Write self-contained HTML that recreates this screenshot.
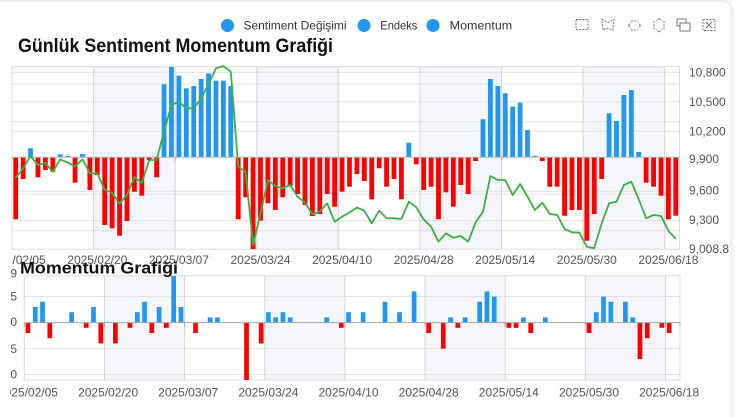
<!DOCTYPE html>
<html><head><meta charset="utf-8"><style>
html,body{margin:0;padding:0;background:#f7f7f7;}
svg{display:block;font-family:"Liberation Sans","Noto Sans CJK SC",sans-serif;}
</style></head><body>
<svg width="735" height="417" viewBox="0 0 735 417" xmlns="http://www.w3.org/2000/svg">
<defs><clipPath id="lc"><rect x="10" y="0" width="725" height="417"/></clipPath>
<clipPath id="lm"><rect x="12" y="0" width="723" height="417"/></clipPath>
<clipPath id="pc"><rect x="12" y="66.7" width="667.5" height="182.5"/></clipPath>
<clipPath id="bc"><rect x="24.3" y="275.8" width="655.7" height="104.2"/></clipPath></defs>
<rect x="-10" y="1" width="741" height="430" rx="8" fill="#fff" stroke="#e4e4e4" stroke-width="1"/>

<!-- Legend -->
<g font-size="12" fill="#333">
<circle cx="227.5" cy="25.5" r="6.5" fill="#2196f3"/><text x="243.5" y="29.7" textLength="103" lengthAdjust="spacingAndGlyphs">Sentiment Değişimi</text>
<circle cx="364" cy="25.5" r="6.5" fill="#2196f3"/><text x="380.3" y="29.7" textLength="37" lengthAdjust="spacingAndGlyphs">Endeks</text>
<circle cx="433" cy="25.5" r="6.5" fill="#2196f3"/><text x="449.7" y="29.7" textLength="62.5" lengthAdjust="spacingAndGlyphs">Momentum</text>
</g>
<!-- Toolbox -->
<g fill="none" stroke="#777" stroke-width="1" stroke-dasharray="2,1.2">
<rect x="576" y="19.5" width="12" height="10"/>
<polygon points="602,19.5 608,22.5 614,19.5 613,30 606,28 603,30"/>
<path d="M631,21 h7 M631,30 h7 M628.5,25.5 l2.5,-3 M628.5,25.5 l2.5,3 M640.5,25.5 l-2.5,-3 M640.5,25.5 l-2.5,3"/>
<path d="M654,21 v9 M664,21 v9 M659,18.5 l-3,2.5 M659,18.5 l3,2.5 M659,32 l-3,-2.5 M659,32 l3,-2.5"/>
<rect x="703" y="19.5" width="12" height="11"/>
<path d="M706,22 l6,6 M712,22 l-6,6" stroke-dasharray="none"/>
</g>
<g fill="none" stroke="#777" stroke-width="1">
<rect x="677" y="19" width="9" height="7"/><rect x="680" y="23" width="10" height="8" fill="#fff"/>
</g>

<!-- Main title -->
<text x="18" y="52" font-size="19" font-weight="bold" fill="#111" textLength="315" lengthAdjust="spacingAndGlyphs">Günlük Sentiment Momentum Grafiği</text>

<!-- Main plot background -->
<g fill="#f4f6fb">
<rect x="93.6" y="66.7" width="81.6" height="182.5"/><rect x="256.8" y="66.7" width="81.5" height="182.5"/>
<rect x="419.9" y="66.7" width="81.6" height="182.5"/><rect x="583.1" y="66.7" width="81.6" height="182.5"/>
</g>
<g stroke="#e2e2e2" stroke-width="1">
<line x1="12" x2="679.5" y1="72.3" y2="72.3"/><line x1="12" x2="679.5" y1="84" y2="84"/>
<line x1="12" x2="679.5" y1="101.7" y2="101.7"/><line x1="12" x2="679.5" y1="121.7" y2="121.7"/>
<line x1="12" x2="679.5" y1="131.3" y2="131.3"/><line x1="12" x2="679.5" y1="191.3" y2="191.3"/>
<line x1="12" x2="679.5" y1="194.3" y2="194.3"/><line x1="12" x2="679.5" y1="220.7" y2="220.7"/>
<line x1="12" x2="679.5" y1="230.7" y2="230.7"/>
</g>
<g stroke="#d6d6d6" stroke-width="1">
<line x1="93.6" x2="93.6" y1="66.7" y2="249.2"/><line x1="175.2" x2="175.2" y1="66.7" y2="249.2"/>
<line x1="256.8" x2="256.8" y1="66.7" y2="249.2"/><line x1="338.3" x2="338.3" y1="66.7" y2="249.2"/>
<line x1="419.9" x2="419.9" y1="66.7" y2="249.2"/><line x1="501.5" x2="501.5" y1="66.7" y2="249.2"/>
<line x1="583.1" x2="583.1" y1="66.7" y2="249.2"/><line x1="664.7" x2="664.7" y1="66.7" y2="249.2"/>
</g>
<rect x="12" y="66.7" width="667.5" height="182.5" fill="none" stroke="#dcdcdc" stroke-width="1"/>

<!-- Main bars -->
<g clip-path="url(#pc)">
<g fill="#ff0000">
<rect x="13.31" y="157.3" width="4.8" height="62"/>
<rect x="20.73" y="157.3" width="4.8" height="21.7"/>
<rect x="35.56" y="157.3" width="4.8" height="20"/>
<rect x="42.98" y="157.3" width="4.8" height="12.7"/>
<rect x="50.40" y="157.3" width="4.8" height="14.4"/>
<rect x="72.65" y="157.3" width="4.8" height="25.4"/>
<rect x="87.48" y="157.3" width="4.8" height="32.7"/>
<rect x="94.90" y="157.3" width="4.8" height="17.7"/>
<rect x="102.31" y="157.3" width="4.8" height="67.7"/>
<rect x="109.73" y="157.3" width="4.8" height="71"/>
<rect x="117.15" y="157.3" width="4.8" height="78.4"/>
<rect x="124.57" y="157.3" width="4.8" height="63.7"/>
<rect x="131.98" y="157.3" width="4.8" height="34.4"/>
<rect x="139.40" y="157.3" width="4.8" height="38.4"/>
<rect x="146.82" y="157.3" width="4.8" height="2.7"/>
<rect x="154.23" y="157.3" width="4.8" height="20"/>
<rect x="235.82" y="157.3" width="4.8" height="62"/>
<rect x="243.24" y="157.3" width="4.8" height="40"/>
<rect x="250.65" y="157.3" width="4.8" height="92"/>
<rect x="258.07" y="157.3" width="4.8" height="63.4"/>
<rect x="265.49" y="157.3" width="4.8" height="46"/>
<rect x="272.91" y="157.3" width="4.8" height="52.7"/>
<rect x="280.32" y="157.3" width="4.8" height="40"/>
<rect x="287.74" y="157.3" width="4.8" height="28.7"/>
<rect x="295.16" y="157.3" width="4.8" height="36.7"/>
<rect x="302.57" y="157.3" width="4.8" height="47.7"/>
<rect x="309.99" y="157.3" width="4.8" height="58.7"/>
<rect x="317.41" y="157.3" width="4.8" height="56.7"/>
<rect x="324.82" y="157.3" width="4.8" height="36.7"/>
<rect x="332.24" y="157.3" width="4.8" height="49.4"/>
<rect x="339.66" y="157.3" width="4.8" height="34.4"/>
<rect x="347.08" y="157.3" width="4.8" height="29.4"/>
<rect x="354.49" y="157.3" width="4.8" height="16.7"/>
<rect x="361.91" y="157.3" width="4.8" height="23.7"/>
<rect x="369.33" y="157.3" width="4.8" height="42"/>
<rect x="376.74" y="157.3" width="4.8" height="11"/>
<rect x="384.16" y="157.3" width="4.8" height="29.4"/>
<rect x="391.58" y="157.3" width="4.8" height="21.7"/>
<rect x="398.99" y="157.3" width="4.8" height="42"/>
<rect x="413.83" y="157.3" width="4.8" height="7"/>
<rect x="421.25" y="157.3" width="4.8" height="32.7"/>
<rect x="428.66" y="157.3" width="4.8" height="29.4"/>
<rect x="436.08" y="157.3" width="4.8" height="62"/>
<rect x="443.50" y="157.3" width="4.8" height="35"/>
<rect x="450.91" y="157.3" width="4.8" height="49.4"/>
<rect x="458.33" y="157.3" width="4.8" height="27.7"/>
<rect x="465.75" y="157.3" width="4.8" height="36.7"/>
<rect x="473.16" y="157.3" width="4.8" height="3.7"/>
<rect x="539.92" y="157.3" width="4.8" height="3.7"/>
<rect x="547.33" y="157.3" width="4.8" height="29.4"/>
<rect x="554.75" y="157.3" width="4.8" height="29.4"/>
<rect x="562.17" y="157.3" width="4.8" height="58.4"/>
<rect x="569.59" y="157.3" width="4.8" height="52.7"/>
<rect x="577.00" y="157.3" width="4.8" height="52.7"/>
<rect x="584.42" y="157.3" width="4.8" height="83.4"/>
<rect x="591.84" y="157.3" width="4.8" height="56.7"/>
<rect x="599.25" y="157.3" width="4.8" height="21.7"/>
<rect x="643.76" y="157.3" width="4.8" height="25.4"/>
<rect x="651.17" y="157.3" width="4.8" height="29.4"/>
<rect x="658.59" y="157.3" width="4.8" height="38.4"/>
<rect x="666.01" y="157.3" width="4.8" height="62"/>
<rect x="673.42" y="157.3" width="4.8" height="58.4"/>
</g>
<g fill="#2196f3">
<rect x="28.14" y="148.3" width="4.8" height="9"/>
<rect x="57.81" y="154.3" width="4.8" height="3"/>
<rect x="65.23" y="156" width="4.8" height="1.3"/>
<rect x="80.06" y="154" width="4.8" height="3.3"/>
<rect x="161.65" y="84.3" width="4.8" height="73"/>
<rect x="169.07" y="66.7" width="4.8" height="90.6"/>
<rect x="176.48" y="75.7" width="4.8" height="81.6"/>
<rect x="183.90" y="88.3" width="4.8" height="69"/>
<rect x="191.32" y="86" width="4.8" height="71.3"/>
<rect x="198.74" y="79" width="4.8" height="78.3"/>
<rect x="206.15" y="73.3" width="4.8" height="84"/>
<rect x="213.57" y="80.7" width="4.8" height="76.6"/>
<rect x="220.99" y="80.7" width="4.8" height="76.6"/>
<rect x="228.40" y="86" width="4.8" height="71.3"/>
<rect x="406.41" y="142.7" width="4.8" height="14.6"/>
<rect x="480.58" y="119.3" width="4.8" height="38"/>
<rect x="488.00" y="79" width="4.8" height="78.3"/>
<rect x="495.42" y="86" width="4.8" height="71.3"/>
<rect x="502.83" y="93.3" width="4.8" height="64"/>
<rect x="510.25" y="106.7" width="4.8" height="50.6"/>
<rect x="517.67" y="102.7" width="4.8" height="54.6"/>
<rect x="525.08" y="130" width="4.8" height="27.3"/>
<rect x="532.50" y="155.7" width="4.8" height="1.6"/>
<rect x="606.67" y="113.3" width="4.8" height="44"/>
<rect x="614.09" y="121" width="4.8" height="36.3"/>
<rect x="621.50" y="95" width="4.8" height="62.3"/>
<rect x="628.92" y="90" width="4.8" height="67.3"/>
<rect x="636.34" y="152" width="4.8" height="5.3"/>
</g>
</g>
<line x1="12" x2="679.5" y1="157.3" y2="157.3" stroke="#b4b4b4" stroke-width="1"/>
<g stroke="#b4b4b4" stroke-width="1">
<line x1="93.6" x2="93.6" y1="157.3" y2="161"/><line x1="175.2" x2="175.2" y1="157.3" y2="161"/>
<line x1="256.8" x2="256.8" y1="157.3" y2="161"/><line x1="338.3" x2="338.3" y1="157.3" y2="161"/>
<line x1="419.9" x2="419.9" y1="157.3" y2="161"/><line x1="501.5" x2="501.5" y1="157.3" y2="161"/>
<line x1="583.1" x2="583.1" y1="157.3" y2="161"/><line x1="664.7" x2="664.7" y1="157.3" y2="161"/>
</g>

<!-- Index line -->
<polyline fill="none" stroke="#3bb143" stroke-width="1.8" stroke-linejoin="round" points="15.7,177.8 23.1,168.3 30.5,156 38.0,165 45.4,163 52.8,171.7 60.2,159.3 67.6,162.7 75.1,166.3 82.5,159.3 89.9,173.3 97.3,173.3 104.7,190 112.1,192.7 119.5,203.7 127.0,195 134.4,177 141.8,183 149.2,160 156.6,160 164.0,131.7 171.5,105 178.9,101.7 186.3,108.3 193.7,108.3 201.1,98.7 208.5,84 216.0,68.3 223.4,66 230.8,71.7 238.2,166.7 245.6,171.7 253.1,245 260.5,213.3 267.9,180 275.3,186 282.7,188.3 290.1,185 297.6,196.7 305.0,202.7 312.4,214 319.8,211.7 327.2,203.3 334.6,221.7 342.1,216.7 349.5,212.5 356.9,207.5 364.3,210.7 371.7,223.3 379.1,210.7 386.6,218.3 394.0,218.3 401.4,219 408.8,201.7 416.2,207.3 423.6,219.3 431.1,226.7 438.5,241.7 445.9,233.3 453.3,237.7 460.7,236 468.2,241.7 475.6,222.3 483.0,211.7 490.4,176 497.8,180 505.2,180 512.7,195 520.1,184 527.5,196.7 534.9,210 542.3,202.7 549.7,214 557.2,215 564.6,229 572.0,232.3 579.4,232.7 586.8,246.7 594.2,248.3 601.7,223.3 609.1,203.3 616.5,201.7 623.9,185 631.3,181.7 638.7,199.3 646.2,218.3 653.6,215 661.0,216 668.4,230.7 675.8,239"/>

<!-- Right axis labels -->
<g font-size="12" fill="#555">
<text x="689" y="76.3">10,800</text>
<text x="689" y="105.8">10,500</text>
<text x="689" y="135.3">10,200</text>
<text x="689" y="163.2">9,900</text>
<text x="689" y="194.5">9,600</text>
<text x="689" y="224">9,300</text>
<text x="689" y="253">9,008.8</text>
</g>

<!-- Main x labels -->
<g font-size="12" fill="#555" text-anchor="middle" clip-path="url(#lm)">
<text x="15.7" y="263.8">2025/02/05</text>
<text x="97.3" y="263.8">2025/02/20</text>
<text x="178.9" y="263.8">2025/03/07</text>
<text x="260.5" y="263.8">2025/03/24</text>
<text x="342.1" y="263.8">2025/04/10</text>
<text x="423.6" y="263.8">2025/04/28</text>
<text x="505.2" y="263.8">2025/05/14</text>
<text x="586.8" y="263.8">2025/05/30</text>
<text x="668.4" y="263.8">2025/06/18</text>
</g>

<!-- Bottom chart -->
<g fill="#f4f6fb">
<rect x="104.45" y="275.8" width="80.15" height="104.2"/><rect x="264.75" y="275.8" width="80.15" height="104.2"/>
<rect x="425.05" y="275.8" width="80.15" height="104.2"/><rect x="585.35" y="275.8" width="80.15" height="104.2"/>
</g>
<g stroke="#e2e2e2" stroke-width="1">
<line x1="24.3" x2="680" y1="296.6" y2="296.6"/><line x1="24.3" x2="680" y1="348.6" y2="348.6"/>
<line x1="24.3" x2="680" y1="374.6" y2="374.6"/>
</g>
<g stroke="#d6d6d6" stroke-width="1">
<line x1="104.45" x2="104.45" y1="275.8" y2="380"/><line x1="184.6" x2="184.6" y1="275.8" y2="380"/>
<line x1="264.75" x2="264.75" y1="275.8" y2="380"/><line x1="344.9" x2="344.9" y1="275.8" y2="380"/>
<line x1="425.05" x2="425.05" y1="275.8" y2="380"/><line x1="505.2" x2="505.2" y1="275.8" y2="380"/>
<line x1="585.35" x2="585.35" y1="275.8" y2="380"/><line x1="665.5" x2="665.5" y1="275.8" y2="380"/>
</g>
<rect x="24.3" y="275.8" width="655.7" height="104.2" fill="none" stroke="#dcdcdc" stroke-width="1"/>
<g clip-path="url(#bc)">
<g fill="#ff0000">
<rect x="25.59" y="322.6" width="4.7" height="10.4"/>
<rect x="47.45" y="322.6" width="4.7" height="15.6"/>
<rect x="83.88" y="322.6" width="4.7" height="5.2"/>
<rect x="98.45" y="322.6" width="4.7" height="20.8"/>
<rect x="113.02" y="322.6" width="4.7" height="20.8"/>
<rect x="127.59" y="322.6" width="4.7" height="5.2"/>
<rect x="149.45" y="322.6" width="4.7" height="10.4"/>
<rect x="164.02" y="322.6" width="4.7" height="5.2"/>
<rect x="193.17" y="322.6" width="4.7" height="10.4"/>
<rect x="244.17" y="322.6" width="4.7" height="60"/>
<rect x="258.74" y="322.6" width="4.7" height="20.8"/>
<rect x="338.89" y="322.6" width="4.7" height="5.2"/>
<rect x="426.32" y="322.6" width="4.7" height="10.4"/>
<rect x="440.89" y="322.6" width="4.7" height="26"/>
<rect x="455.46" y="322.6" width="4.7" height="5.2"/>
<rect x="506.47" y="322.6" width="4.7" height="5.2"/>
<rect x="513.75" y="322.6" width="4.7" height="5.2"/>
<rect x="528.32" y="322.6" width="4.7" height="10.4"/>
<rect x="586.61" y="322.6" width="4.7" height="10.4"/>
<rect x="637.61" y="322.6" width="4.7" height="36.4"/>
<rect x="644.90" y="322.6" width="4.7" height="15.6"/>
<rect x="659.47" y="322.6" width="4.7" height="5.2"/>
<rect x="666.76" y="322.6" width="4.7" height="10.4"/>
</g>
<g fill="#2196f3">
<rect x="32.88" y="307" width="4.7" height="15.6"/>
<rect x="40.16" y="301.8" width="4.7" height="20.8"/>
<rect x="69.31" y="312.2" width="4.7" height="10.4"/>
<rect x="91.16" y="307" width="4.7" height="15.6"/>
<rect x="134.88" y="312.2" width="4.7" height="10.4"/>
<rect x="142.17" y="301.8" width="4.7" height="20.8"/>
<rect x="156.74" y="307" width="4.7" height="15.6"/>
<rect x="171.31" y="275.8" width="4.7" height="46.8"/>
<rect x="178.60" y="307" width="4.7" height="15.6"/>
<rect x="207.74" y="317.4" width="4.7" height="5.2"/>
<rect x="215.03" y="317.4" width="4.7" height="5.2"/>
<rect x="266.03" y="312.2" width="4.7" height="10.4"/>
<rect x="273.31" y="317.4" width="4.7" height="5.2"/>
<rect x="280.60" y="312.2" width="4.7" height="10.4"/>
<rect x="287.89" y="317.4" width="4.7" height="5.2"/>
<rect x="324.32" y="317.4" width="4.7" height="5.2"/>
<rect x="346.17" y="312.2" width="4.7" height="10.4"/>
<rect x="360.75" y="312.2" width="4.7" height="10.4"/>
<rect x="382.60" y="301.8" width="4.7" height="20.8"/>
<rect x="397.18" y="312.2" width="4.7" height="10.4"/>
<rect x="411.75" y="291.4" width="4.7" height="31.2"/>
<rect x="448.18" y="317.4" width="4.7" height="5.2"/>
<rect x="462.75" y="317.4" width="4.7" height="5.2"/>
<rect x="477.32" y="301.8" width="4.7" height="20.8"/>
<rect x="484.61" y="291.4" width="4.7" height="31.2"/>
<rect x="491.89" y="296.6" width="4.7" height="26"/>
<rect x="521.04" y="317.4" width="4.7" height="5.2"/>
<rect x="542.90" y="317.4" width="4.7" height="5.2"/>
<rect x="593.90" y="312.2" width="4.7" height="10.4"/>
<rect x="601.18" y="296.6" width="4.7" height="26"/>
<rect x="608.47" y="301.8" width="4.7" height="20.8"/>
<rect x="623.04" y="301.8" width="4.7" height="20.8"/>
<rect x="630.33" y="317.4" width="4.7" height="5.2"/>
</g>
</g>
<line x1="24.3" x2="680" y1="322.6" y2="322.6" stroke="#a8a8a8" stroke-width="1"/>
<g stroke="#a8a8a8" stroke-width="1">
<line x1="24.3" x2="24.3" y1="322.6" y2="326.5"/>
<line x1="104.45" x2="104.45" y1="322.6" y2="326.5"/><line x1="184.6" x2="184.6" y1="322.6" y2="326.5"/>
<line x1="264.75" x2="264.75" y1="322.6" y2="326.5"/><line x1="344.9" x2="344.9" y1="322.6" y2="326.5"/>
<line x1="425.05" x2="425.05" y1="322.6" y2="326.5"/><line x1="505.2" x2="505.2" y1="322.6" y2="326.5"/>
<line x1="585.35" x2="585.35" y1="322.6" y2="326.5"/><line x1="665.5" x2="665.5" y1="322.6" y2="326.5"/>
<line x1="680" x2="680" y1="322.6" y2="326.5"/>
</g>

<!-- Bottom y labels -->
<g font-size="12" fill="#555" text-anchor="end" clip-path="url(#lc)">
<text x="17" y="277.4">9</text>
<text x="17" y="300.4">5</text>
<text x="17" y="326">0</text>
<text x="17" y="352.8">-5</text>
<text x="17" y="378.6">-10</text>
</g>
<!-- Bottom x labels -->
<g font-size="12" fill="#555" text-anchor="middle" clip-path="url(#lc)">
<text x="27.9" y="396.5">2025/02/05</text>
<text x="108.1" y="396.5">2025/02/20</text>
<text x="188.2" y="396.5">2025/03/07</text>
<text x="268.4" y="396.5">2025/03/24</text>
<text x="348.5" y="396.5">2025/04/10</text>
<text x="428.7" y="396.5">2025/04/28</text>
<text x="508.8" y="396.5">2025/05/14</text>
<text x="589" y="396.5">2025/05/30</text>
<text x="669.1" y="396.5">2025/06/18</text>
</g>

<!-- Bottom title -->
<text x="20" y="273.5" font-size="17" font-weight="bold" fill="#111" textLength="158" lengthAdjust="spacingAndGlyphs">Momentum Grafiği</text>
</svg>
</body></html>
